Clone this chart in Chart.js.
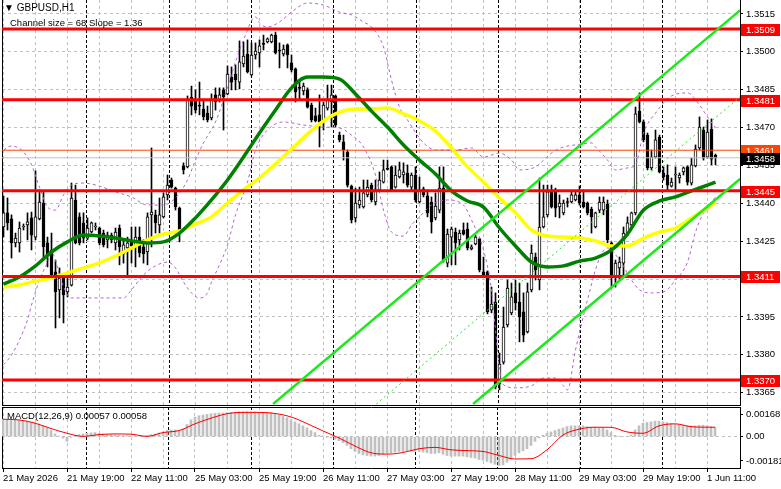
<!DOCTYPE html>
<html>
<head>
<meta charset="utf-8">
<title>GBPUSD,H1</title>
<script src="https://cdn.jsdelivr.net/npm/chart.js@4.4.1/dist/chart.umd.min.js"></script>
<style>
  body { margin: 0; background: #fff; }
  #wrap { position: relative; width: 781px; height: 489px; overflow: hidden; font-family: "Liberation Sans", Arial, sans-serif; }
  canvas { position: absolute; left: 0; }
  .note { position: absolute; font-size: 9.5px; line-height: 12px; color: #000; white-space: nowrap; }
</style>
</head>
<body>
<div id="wrap">
  <canvas id="priceChart" width="781" height="406" style="top:0"></canvas>
  <canvas id="macdChart" width="781" height="84" style="top:405px"></canvas>
  <div class="note" style="left:4px;top:2px;font-size:10px"><span style="font-size:10px">&#9660;</span> GBPUSD,H1</div>
  <div class="note" style="left:10px;top:17px">Channel size = 68 Slope = 1.36</div>
  <div class="note" style="left:7px;top:410px">MACD(12,26,9) 0.00057 0.00058</div>
</div>
<script>
// H1 candles, 21 May 2026 03:00 .. 1 Jun 13:00
const opens = [1.34306,1.34362,1.34338,1.34243,1.34243,1.34306,1.34314,1.34342,1.34266,1.34338,
  1.34401,1.34243,1.34215,1.34128,1.34057,1.34108,1.34049,1.34076,1.34413,1.34346,
  1.34322,1.34262,1.34286,1.34306,1.34302,1.34282,1.34255,1.34274,1.34243,1.34302,
  1.34199,1.34223,1.34255,1.34227,1.34266,1.34227,1.34207,1.34354,1.34354,1.34314,
  1.34346,1.34433,1.34492,1.34460,1.34381,1.34548,1.34544,1.34821,1.34809,1.34789,
  1.34773,1.34757,1.34738,1.34829,1.34809,1.34849,1.34833,1.34900,1.34912,1.34880,
  1.34952,1.34991,1.34908,1.34987,1.34995,1.35031,1.35039,1.35039,1.35066,1.35007,
  1.34991,1.35027,1.34956,1.34932,1.34857,1.34845,1.34849,1.34789,1.34746,1.34750,
  1.34730,1.34777,1.34801,1.34825,1.34670,1.34643,1.34603,1.34468,1.34342,1.34393,
  1.34385,1.34433,1.34472,1.34405,1.34453,1.34484,1.34536,1.34544,1.34464,1.34504,
  1.34512,1.34520,1.34464,1.34512,1.34405,1.34457,1.34429,1.34405,1.34342,1.34373,
  1.34460,1.34163,1.34266,1.34286,1.34255,1.34294,1.34298,1.34219,1.34239,1.34259,
  1.34128,1.34128,1.33977,1.34009,1.33684,1.33771,1.33918,1.33966,1.34045,1.34009,
  1.33970,1.33890,1.34057,1.34187,1.34096,1.34306,1.34354,1.34445,1.34445,1.34385,
  1.34362,1.34405,1.34405,1.34413,1.34433,1.34405,1.34401,1.34377,1.34306,1.34373,
  1.34373,1.34397,1.34243,1.34104,1.34144,1.34163,1.34282,1.34314,1.34362,1.34765,
  1.34722,1.34670,1.34540,1.34583,1.34662,1.34520,1.34512,1.34468,1.34512,1.34500,
  1.34524,1.34544,1.34480,1.34548,1.34619,1.34690,1.34583,1.34694,1.34590];
const highs = [1.34429,1.34421,1.34354,1.34282,1.34326,1.34318,1.34362,1.34365,1.34528,1.34453,
  1.34445,1.34266,1.34282,1.34175,1.34144,1.34112,1.34116,1.34480,1.34472,1.34362,
  1.34362,1.34342,1.34326,1.34322,1.34306,1.34294,1.34286,1.34282,1.34302,1.34314,
  1.34255,1.34266,1.34306,1.34306,1.34306,1.34255,1.34362,1.34619,1.34373,1.34421,
  1.34441,1.34512,1.34500,1.34464,1.34385,1.34560,1.34825,1.34864,1.34849,1.34880,
  1.34809,1.34785,1.34833,1.34857,1.34857,1.34857,1.34944,1.34940,1.34948,1.35043,
  1.35039,1.35047,1.35035,1.35035,1.35047,1.35066,1.35055,1.35070,1.35078,1.35035,
  1.35027,1.35031,1.34987,1.34936,1.34888,1.34876,1.34857,1.34797,1.34777,1.34829,
  1.34801,1.34868,1.34868,1.34829,1.34682,1.34670,1.34611,1.34472,1.34460,1.34464,
  1.34492,1.34492,1.34480,1.34492,1.34524,1.34571,1.34571,1.34548,1.34548,1.34563,
  1.34560,1.34552,1.34520,1.34544,1.34504,1.34464,1.34453,1.34425,1.34441,1.34544,
  1.34544,1.34298,1.34306,1.34302,1.34294,1.34322,1.34322,1.34235,1.34274,1.34262,
  1.34187,1.34132,1.34068,1.34045,1.33807,1.33989,1.34096,1.34084,1.34096,1.34084,
  1.34045,1.34084,1.34235,1.34203,1.34500,1.34472,1.34472,1.34472,1.34460,1.34433,
  1.34413,1.34421,1.34445,1.34445,1.34468,1.34453,1.34405,1.34385,1.34365,1.34425,
  1.34425,1.34413,1.34247,1.34175,1.34187,1.34306,1.34346,1.34365,1.34781,1.34837,
  1.34730,1.34678,1.34611,1.34690,1.34670,1.34544,1.34552,1.34500,1.34544,1.34520,
  1.34544,1.34548,1.34579,1.34631,1.34742,1.34702,1.34730,1.34734,1.34595];
const lows = [1.34266,1.34294,1.34183,1.34227,1.34207,1.34294,1.34255,1.34215,1.34255,1.34334,
  1.34175,1.34148,1.34108,1.33906,1.33946,1.33926,1.34029,1.34072,1.34239,1.34235,
  1.34243,1.34255,1.34282,1.34294,1.34235,1.34227,1.34223,1.34243,1.34215,1.34156,
  1.34163,1.34116,1.34163,1.34148,1.34187,1.34163,1.34156,1.34227,1.34282,1.34282,
  1.34342,1.34413,1.34460,1.34373,1.34247,1.34516,1.34540,1.34750,1.34757,1.34750,
  1.34730,1.34722,1.34730,1.34769,1.34801,1.34690,1.34829,1.34849,1.34849,1.34853,
  1.34940,1.34916,1.34904,1.34971,1.34940,1.35007,1.35035,1.35035,1.34991,1.34936,
  1.34983,1.34936,1.34920,1.34801,1.34809,1.34829,1.34777,1.34722,1.34722,1.34623,
  1.34690,1.34769,1.34702,1.34702,1.34643,1.34571,1.34464,1.34322,1.34326,1.34381,
  1.34381,1.34425,1.34405,1.34393,1.34449,1.34480,1.34532,1.34449,1.34460,1.34500,
  1.34480,1.34464,1.34453,1.34405,1.34401,1.34425,1.34346,1.34282,1.34334,1.34362,
  1.34167,1.34148,1.34156,1.34156,1.34215,1.34274,1.34215,1.34215,1.34235,1.34128,
  1.34108,1.33962,1.33966,1.33665,1.33661,1.33763,1.33910,1.33958,1.33977,1.33851,
  1.33851,1.33886,1.34049,1.34096,1.34057,1.34302,1.34346,1.34381,1.34346,1.34342,
  1.34354,1.34385,1.34401,1.34409,1.34393,1.34381,1.34354,1.34282,1.34302,1.34362,
  1.34354,1.34243,1.34064,1.34068,1.34096,1.34108,1.34274,1.34306,1.34354,1.34718,
  1.34643,1.34532,1.34532,1.34579,1.34520,1.34492,1.34453,1.34464,1.34453,1.34480,
  1.34512,1.34472,1.34472,1.34544,1.34611,1.34571,1.34579,1.34552,1.34552];
const closes = [1.34362,1.34322,1.34243,1.34262,1.34302,1.34310,1.34326,1.34274,1.34346,1.34405,
  1.34227,1.34195,1.34116,1.34049,1.34104,1.34037,1.34068,1.34421,1.34243,1.34243,
  1.34262,1.34302,1.34322,1.34310,1.34243,1.34235,1.34274,1.34255,1.34286,1.34227,
  1.34235,1.34243,1.34231,1.34266,1.34203,1.34199,1.34346,1.34365,1.34322,1.34354,
  1.34425,1.34472,1.34464,1.34385,1.34294,1.34532,1.34809,1.34785,1.34769,1.34785,
  1.34742,1.34730,1.34809,1.34801,1.34829,1.34821,1.34912,1.34880,1.34888,1.34960,
  1.34983,1.34920,1.34987,1.35003,1.35023,1.35029,1.35051,1.35066,1.34995,1.35003,
  1.35011,1.34987,1.34928,1.34841,1.34855,1.34864,1.34781,1.34730,1.34726,1.34722,
  1.34789,1.34809,1.34829,1.34710,1.34651,1.34611,1.34472,1.34334,1.34401,1.34413,
  1.34441,1.34464,1.34413,1.34453,1.34492,1.34532,1.34534,1.34453,1.34512,1.34532,
  1.34524,1.34472,1.34512,1.34413,1.34453,1.34433,1.34362,1.34326,1.34389,1.34460,
  1.34175,1.34278,1.34298,1.34243,1.34282,1.34278,1.34223,1.34227,1.34266,1.34136,
  1.34116,1.33970,1.34001,1.33673,1.33763,1.33910,1.34064,1.34029,1.34005,1.33950,
  1.33878,1.34049,1.34203,1.34136,1.34306,1.34346,1.34445,1.34385,1.34381,1.34401,
  1.34401,1.34403,1.34433,1.34433,1.34401,1.34385,1.34362,1.34346,1.34362,1.34405,
  1.34405,1.34255,1.34104,1.34163,1.34167,1.34282,1.34322,1.34362,1.34754,1.34722,
  1.34651,1.34540,1.34583,1.34651,1.34524,1.34504,1.34472,1.34484,1.34514,1.34512,
  1.34540,1.34484,1.34552,1.34615,1.34702,1.34579,1.34682,1.34575,1.34580];

// moving averages at these bars
const maIdx = [0,4,8,12,16,20,24,28,32,36,40,44,48,52,56,60,64,68,72,76,80,84,88,92,96,
  100,104,108,112,116,120,124,128,132,136,140,144,148,152,156,160,164,168,172,176,178];
const maGreen = [1.34080,1.34108,1.34152,1.34207,1.34247,1.34274,1.34270,1.34262,1.34251,1.34243,
  1.34247,1.34282,1.34342,1.34413,1.34492,1.34583,1.34678,1.34769,1.34857,1.34900,
  1.34900,1.34892,1.34833,1.34765,1.34702,1.34631,1.34571,1.34516,1.34449,1.34409,
  1.34385,1.34302,1.34231,1.34167,1.34148,1.34152,1.34171,1.34183,1.34215,1.34278,
  1.34373,1.34409,1.34425,1.34449,1.34472,1.34484];
const maYellow = [1.34068,1.34076,1.34092,1.34104,1.34124,1.34144,1.34164,1.34191,1.34223,1.34255,
  1.34278,1.34290,1.34318,1.34346,1.34401,1.34453,1.34500,1.34556,1.34615,1.34674,
  1.34726,1.34761,1.34773,1.34773,1.34777,1.34754,1.34726,1.34686,1.34619,1.34544,
  1.34484,1.34421,1.34362,1.34294,1.34270,1.34266,1.34262,1.34251,1.34231,1.34231,
  1.34262,1.34286,1.34302,1.34342,1.34381,1.34405];

// Bollinger bands
const bbUpIdx = [0,2,5,7,9,11,13,15,17,20,24,28,32,36,40,43,46,48,50,53,55,58,60,63,64,66,69,72,76,80,
  84,87,90,92,95,97,99,101,105,108,113,117,120,124,127,129,133,137,140,143,147,148,151,153,156,158,
  160,163,167,171,174,176,178];
const bbUpVal = [1.34611,1.34627,1.34603,1.34552,1.34464,1.34385,1.34373,1.34433,1.34472,1.34480,
  1.34468,1.34445,1.34425,1.34393,1.34393,1.34421,1.34492,1.34571,1.34639,1.34722,
  1.34809,1.34960,1.35047,1.35138,1.35114,1.35098,1.35118,1.35157,1.35193,1.35185,
  1.35157,1.35146,1.35118,1.35098,1.35019,1.34888,1.34781,1.34730,1.34639,1.34611,
  1.34611,1.34619,1.34583,1.34599,1.34571,1.34532,1.34544,1.34599,1.34623,1.34631,
  1.34639,1.34623,1.34571,1.34532,1.34540,1.34552,1.34678,1.34757,1.34825,1.34837,
  1.34789,1.34742,1.34698];
const bbLoIdx = [0,2,4,6,7,9,11,12,13,14,16,17,30,32,35,38,41,43,45,47,49,51,52,54,56,58,61,63,66,70,
  75,80,84,87,90,93,95,97,100,102,104,107,111,115,117,120,122,123,124,125,128,132,135,138,140,141,
  143,146,149,151,154,157,159,162,165,168,171,173,175,177,178];
const bbLoVal = [1.33760,1.33799,1.33859,1.33938,1.33997,1.34096,1.34167,1.34207,1.34175,1.34116,
  1.34037,1.34025,1.34025,1.34057,1.34116,1.34152,1.34167,1.34144,1.34088,1.34045,
  1.34025,1.34045,1.34088,1.34156,1.34235,1.34354,1.34484,1.34611,1.34690,1.34722,
  1.34710,1.34702,1.34698,1.34670,1.34623,1.34512,1.34373,1.34286,1.34270,1.34314,
  1.34346,1.34393,1.34413,1.34393,1.34334,1.34215,1.34057,1.33898,1.33740,1.33681,
  1.33669,1.33677,1.33708,1.33708,1.33677,1.33661,1.33819,1.34017,1.34183,1.34223,
  1.34175,1.34096,1.34057,1.34045,1.34049,1.34096,1.34167,1.34286,1.34362,1.34405,
  1.34425];

// equidistant channel, two anchors (bar, price) per line
const chUpper = [[67.4, 1.33605], [184.2, 1.35165]];
const chMiddle = [[93.2, 1.33605], [184.2, 1.34822]];
const chLower = [[117.4, 1.33605], [184.2, 1.34497]];

// horizontal levels
const hLevels = [1.3509, 1.3481, 1.3445, 1.3411, 1.3370];
const markLevel = 1.3461;
const bidLevel = 1.3458;

// MACD(12,26,9)
const macdMain = [0.00129,0.00128,0.00126,0.00124,0.00122,0.00120,0.00115,0.00108,0.00102,0.00095,
  0.00080,0.00065,0.00045,0.00020,0.00005,-0.00010,-0.00035,-0.00005,0.00010,0.00015,
  0.00020,0.00025,0.00028,0.00030,0.00025,0.00020,0.00015,0.00015,0.00012,0.00010,
  0.00008,0.00008,0.00005,0.00005,0.00003,0.00003,0.00008,0.00015,0.00020,0.00028,
  0.00035,0.00045,0.00050,0.00050,0.00045,0.00055,0.00090,0.00125,0.00145,0.00155,
  0.00160,0.00165,0.00170,0.00173,0.00175,0.00175,0.00178,0.00180,0.00180,0.00185,
  0.00185,0.00185,0.00183,0.00183,0.00180,0.00180,0.00180,0.00178,0.00170,0.00160,
  0.00150,0.00140,0.00125,0.00110,0.00095,0.00080,0.00065,0.00045,0.00030,0.00010,
  0.00005,-0.00005,-0.00010,-0.00020,-0.00030,-0.00045,-0.00065,-0.00090,-0.00110,-0.00125,
  -0.00135,-0.00140,-0.00145,-0.00145,-0.00140,-0.00130,-0.00125,-0.00120,-0.00115,-0.00110,
  -0.00110,-0.00105,-0.00105,-0.00110,-0.00110,-0.00115,-0.00120,-0.00125,-0.00125,-0.00120,
  -0.00130,-0.00140,-0.00145,-0.00145,-0.00145,-0.00145,-0.00150,-0.00155,-0.00160,-0.00170,
  -0.00175,-0.00185,-0.00195,-0.00205,-0.00215,-0.00210,-0.00190,-0.00165,-0.00140,-0.00120,
  -0.00105,-0.00090,-0.00065,-0.00035,-0.00010,0.00010,0.00025,0.00035,0.00045,0.00055,
  0.00065,0.00075,0.00080,0.00080,0.00080,0.00080,0.00075,0.00070,0.00070,0.00065,
  0.00065,0.00050,0.00030,0.00010,0.00003,0.00000,0.00003,0.00010,0.00050,0.00080,
  0.00100,0.00105,0.00110,0.00115,0.00115,0.00110,0.00105,0.00095,0.00090,0.00085,
  0.00085,0.00080,0.00080,0.00080,0.00085,0.00085,0.00080,0.00075,0.00070];
const signalIdx = [0,4,8,12,16,20,24,28,32,36,40,44,48,52,56,60,64,68,72,76,80,84,88,92,96,
  100,104,108,112,116,120,124,128,132,136,140,144,148,152,156,160,164,168,172,176,178];
const macdSignal = [0.00129,0.00124,0.00100,0.00060,0.00025,0.00002,0.00015,0.00020,0.00018,0.00002,
  0.00030,0.00045,0.00095,0.00137,0.00170,0.00180,0.00180,0.00172,0.00146,0.00097,
  0.00042,-0.00010,-0.00070,-0.00120,-0.00130,-0.00118,-0.00090,-0.00080,-0.00098,-0.00104,
  -0.00110,-0.00140,-0.00166,-0.00164,-0.00098,0.00012,0.00055,0.00070,0.00069,0.00035,
  0.00025,0.00080,0.00095,0.00074,0.00070,0.00070];

// axes
const priceTicks = [1.3365,1.3380,1.3395,1.3410,1.3425,1.3440,1.3455,1.3470,1.3485,1.3500,1.3515];
const macdTicks = [0.00168, 0, -0.00181];
const timeLabels = ['21 May 2026','21 May 19:00','22 May 11:00','25 May 03:00','25 May 19:00','26 May 11:00',
  '27 May 03:00','27 May 19:00','28 May 11:00','29 May 03:00','29 May 19:00','1 Jun 11:00'];
const dayStarts = [21, 45, 69, 93, 117, 141, 165];

const X_MIN = -0.375, X_MAX = 184.125;
const Y_MIN = 1.33601, Y_MAX = 1.35205;
const gridTicks = [];
for (let v = 0; v <= 176; v += 8) gridTicks.push(v);
const bars = opens.map((_, i) => i);

Chart.defaults.font.family = '"Liberation Sans", Arial, sans-serif';
Chart.defaults.font.size = 9.5;
Chart.defaults.color = '#000';

function fit(size) {
    return function(scale) {
        if (scale.isHorizontal()) scale.height = size; else scale.width = size;
        scale.paddingTop = scale.paddingBottom = scale.paddingLeft = scale.paddingRight = 0;
    };
}

function ticksAt(values) {
    return function(scale) {
        scale.ticks = values.map(v => ({ value: v }));
    };
}

function pts(idx, vals) {
    return idx.map((x, k) => ({ x: x, y: vals[k] }));
}

function line(data, color, width, dash, order, smooth) {
    return {
        type: 'line', data: data, borderColor: color, borderWidth: width, borderDash: dash || [],
        pointRadius: 0, fill: false, order: order,
        cubicInterpolationMode: smooth ? 'monotone' : 'default'
    };
}

function flat(v) {
    return [{ x: X_MIN, y: v }, { x: X_MAX, y: v }];
}

// coloured price tags on the right scale
const priceTags = {
    id: 'priceTags',
    afterDraw(chart) {
        const { ctx, scales: { y } } = chart;
        const tags = hLevels.map(v => [v, '#ff0000']).concat([[markLevel, '#ff4500'], [bidLevel, '#000000']]);
        ctx.save();
        ctx.font = '9.5px "Liberation Sans", Arial, sans-serif';
        ctx.textBaseline = 'middle';
        tags.forEach(([v, bg]) => {
            const py = Math.round(y.getPixelForValue(v));
            ctx.fillStyle = bg;
            ctx.fillRect(741, py - 5, 39, 12);
            ctx.fillStyle = '#fff';
            ctx.fillText(v.toFixed(4), 746, py + 1);
        });
        ctx.restore();
    }
};

const hidden = { display: false };

new Chart('priceChart', {
    type: 'bar',
    data: {
        datasets: [
            { data: bars.map(i => ({ x: i, y: [lows[i], highs[i]] })), backgroundColor: '#000',
              barThickness: 1, grouped: false, order: 20 },
            { data: bars.map(i => ({ x: i, y: [opens[i], closes[i]] })),
              backgroundColor: c => closes[c.dataIndex] >= opens[c.dataIndex] ? '#fff' : '#000',
              borderColor: '#000', borderWidth: 1, borderSkipped: false, barThickness: 3, minBarLength: 1,
              grouped: false, order: 19 },
            line(flat(markLevel), '#ff4500', 1, null, 15),
            line(flat(bidLevel), '#c0c0c0', 1, null, 15),
            line(pts(bbUpIdx, bbUpVal), '#b65fd6', 1, [3, 3], 12, true),
            line(pts(bbLoIdx, bbLoVal), '#b65fd6', 1, [3, 3], 12, true),
            line(pts(maIdx, maYellow), '#ffff00', 3.5, null, 9, true),
            line(pts(maIdx, maGreen), '#008000', 3.5, null, 8, true),
            ...hLevels.map(v => line(flat(v), '#ff0000', 3, null, 6)),
            line(chMiddle.map(p => ({ x: p[0], y: p[1] })), '#1ee81e', 1, [2, 3], 4),
            line(chUpper.map(p => ({ x: p[0], y: p[1] })), '#1ee81e', 2.5, null, 4),
            line(chLower.map(p => ({ x: p[0], y: p[1] })), '#1ee81e', 2.5, null, 4)
        ]
    },
    options: {
        responsive: false,
        animation: false,
        layout: { padding: { left: 2, top: 0, right: 0, bottom: 1 } },
        plugins: { legend: hidden, tooltip: { enabled: false } },
        scales: {
            x: {
                type: 'linear', min: X_MIN, max: X_MAX, offset: false,
                afterBuildTicks: ticksAt(gridTicks), afterFit: fit(0),
                grid: { color: '#c0c0c0', offset: false, drawTicks: false },
                border: { display: true, color: '#000', dash: [3, 3] },
                ticks: hidden
            },
            xd: {
                type: 'linear', position: 'bottom', min: X_MIN, max: X_MAX,
                afterBuildTicks: ticksAt(dayStarts), afterFit: fit(0),
                grid: { color: '#000', drawTicks: false },
                border: { display: false, dash: [3, 2] },
                ticks: hidden
            },
            y: {
                position: 'right', min: Y_MIN, max: Y_MAX,
                afterBuildTicks: ticksAt(priceTicks), afterFit: fit(41),
                grid: { color: '#c0c0c0', tickColor: '#000', tickLength: 3, tickBorderDash: [] },
                border: { display: true, color: '#000', dash: [3, 3] },
                ticks: { padding: 3, callback: v => v.toFixed(4) }
            },
            yl: {
                position: 'left', afterFit: fit(0),
                grid: hidden, ticks: hidden,
                border: { display: true, color: '#000' }
            }
        }
    },
    plugins: [priceTags]
});

new Chart('macdChart', {
    type: 'bar',
    data: {
        datasets: [
            { data: bars.map(i => ({ x: i, y: macdMain[i] })), backgroundColor: '#c0c0c0',
              barThickness: 2, grouped: false, order: 2 },
            line(pts(signalIdx, macdSignal), '#ff0000', 1, null, 1, true)
        ]
    },
    options: {
        responsive: false,
        animation: false,
        layout: { padding: { left: 2, top: 2, right: 0, bottom: 0 } },
        plugins: { legend: hidden, tooltip: { enabled: false } },
        scales: {
            x: {
                type: 'linear', position: 'bottom', min: X_MIN + 0.125, max: X_MAX + 0.125, offset: false,
                afterBuildTicks: ticksAt(gridTicks), afterFit: fit(21),
                grid: {
                    color: '#c0c0c0', offset: false, tickLength: 4, tickBorderDash: [],
                    tickColor: c => (c.tick && c.tick.value % 16 === 0) ? '#000' : 'rgba(0,0,0,0)'
                },
                border: { display: true, color: '#000', dash: [3, 3] },
                ticks: {
                    autoSkip: false, maxRotation: 0, minRotation: 0, align: 'start', padding: 1,
                    callback: v => v % 16 === 0 ? timeLabels[v / 16] : ''
                }
            },
            xd: {
                type: 'linear', position: 'bottom', min: X_MIN + 0.125, max: X_MAX + 0.125,
                afterBuildTicks: ticksAt(dayStarts), afterFit: fit(0),
                grid: { color: '#000', drawTicks: false },
                border: { display: false, dash: [3, 2] },
                ticks: hidden
            },
            xt: {
                type: 'linear', position: 'top', min: X_MIN, max: X_MAX, afterFit: fit(0),
                grid: hidden, ticks: hidden,
                border: { display: true, color: '#000' }
            },
            y: {
                position: 'right', min: -0.00233, max: 0.0022,
                afterBuildTicks: ticksAt(macdTicks), afterFit: fit(41),
                grid: {
                    color: c => (c.tick && c.tick.value === 0) ? '#c0c0c0' : 'rgba(0,0,0,0)',
                    tickColor: '#000', tickLength: 3, tickBorderDash: []
                },
                border: { display: true, color: '#000', dash: [3, 3] },
                ticks: { padding: 3, callback: v => v === 0 ? '0.00' : v.toFixed(5) }
            },
            yl: {
                position: 'left', afterFit: fit(0),
                grid: hidden, ticks: hidden,
                border: { display: true, color: '#000' }
            }
        }
    }
});
</script>
</body>
</html>
